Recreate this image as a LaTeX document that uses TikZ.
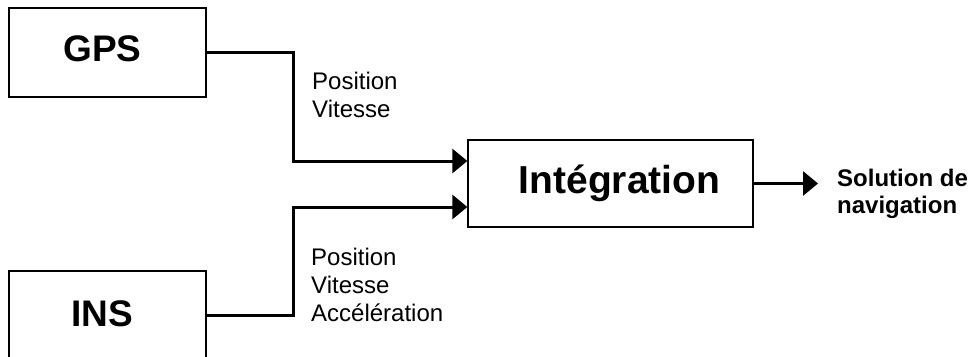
\documentclass[tikz,border=0pt]{standalone}
\usepackage{fontspec}
\setmainfont{Liberation Sans}
\usetikzlibrary{arrows.meta,calc}
\begin{document}
\begin{tikzpicture}[x=1pt,y=-1pt,
  blockbox/.style={draw=black,line width=1.3pt,minimum width=197pt,inner sep=0pt,font=\bfseries\fontsize{37}{40}\selectfont},
  conn/.style={line width=3pt},
  arr/.style={conn,-{Triangle[length=15pt,width=24pt]}},
  lbl/.style={align=left,inner sep=0pt,anchor=base west,font=\fontsize{24}{28}\selectfont}]
\useasboundingbox (0,0) rectangle (971,356);
\clip (0,0) rectangle (971,356);
\node[blockbox,minimum height=89pt] (gps) at (107.5,52.5) {\raisebox{7pt}{GPS}\hspace*{10pt}};
\node[blockbox,minimum height=92pt] (ins) at (107.5,317) {\raisebox{6pt}{INS}\hspace*{10pt}};
\node[draw=black,line width=1.3pt,minimum width=285pt,minimum height=87pt,inner sep=0pt,font=\bfseries\fontsize{39}{44}\selectfont] (integ) at (610.5,183.5) {\hspace*{18pt}Intégration};
\coordinate (j1) at (293,52.5);
\coordinate (j2) at (293,315);
\coordinate (in1) at ($(integ.west)+(0,-22.5)$);
\coordinate (in2) at ($(integ.west)+(0,23.5)$);
\coordinate (outp) at (818,183.5);
\draw[arr] (gps.east) -- (j1) |- (in1);
\draw[arr] (ins.east |- j2) -- (j2) |- (in2);
\draw[arr] (integ.east) -- (outp);
\node[lbl] (l1) at (312,117) {Position\\Vitesse};
\node[lbl] (l2) at (311,321) {Position\\Vitesse\\Accélération};
\node[lbl,font=\bfseries\fontsize{24}{27}\selectfont] (sol) at (837,213) {Solution de\\navigation};
\end{tikzpicture}
\end{document}
